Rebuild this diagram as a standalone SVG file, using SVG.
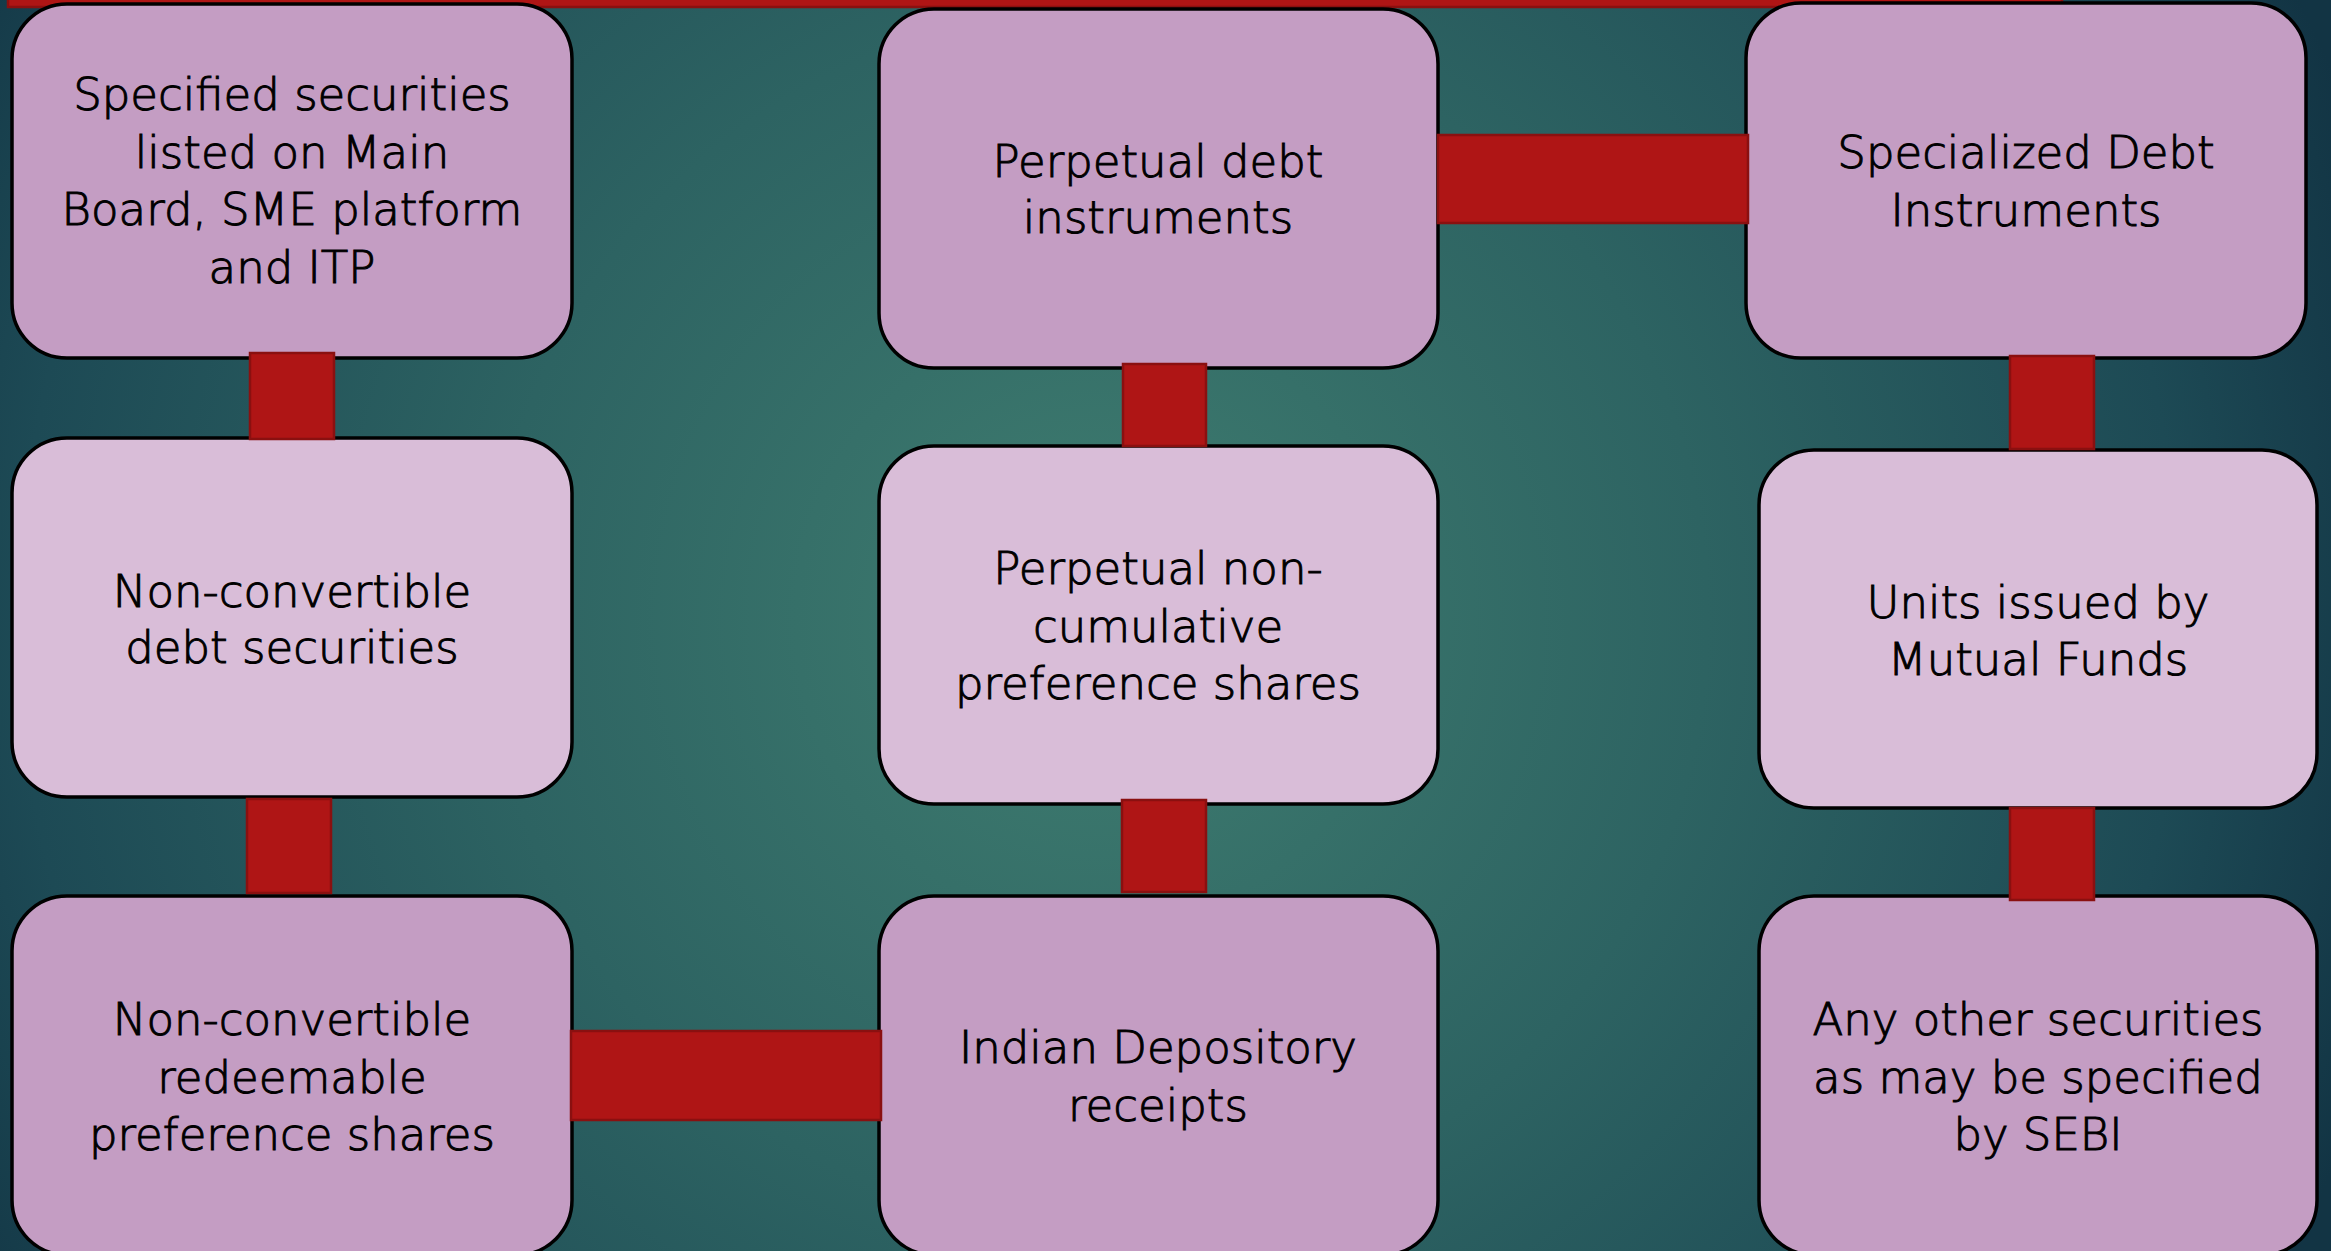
<svg xmlns="http://www.w3.org/2000/svg" width="2331" height="1251" viewBox="0 0 2331 1251">
  <defs>
    <radialGradient id="bg" cx="1100" cy="620" r="1350" gradientUnits="userSpaceOnUse">
      <stop offset="0" stop-color="#3f7d70"/>
      <stop offset="0.45" stop-color="#2d6362"/>
      <stop offset="0.8" stop-color="#1d4a55"/>
      <stop offset="1" stop-color="#123444"/>
    </radialGradient>
    <style>
      .box { stroke: #000; stroke-width: 3.5; }
      .dark { fill: #c49dc3; }
      .light { fill: #d9bdd8; }
      .conn { fill: #af1515; stroke: #8a1010; stroke-width: 2.5; }
      .lbl { font-family: "DejaVu Sans", "Liberation Sans", sans-serif; font-weight: 200; font-size: 45px; fill: #000; stroke: #000; stroke-width: 1; text-anchor: middle; }
    </style>
  </defs>
  <rect x="0" y="0" width="2331" height="1251" fill="url(#bg)"/>

  <rect id="topbar" class="conn" x="8" y="-8" width="2054" height="15"/>

  <g id="node-a1">
    <rect class="box dark" x="12" y="4" width="560" height="354" rx="55" ry="55"/>
    <text class="lbl"><tspan x="292" y="110">Specified securities</tspan><tspan x="292" y="168">listed on Main</tspan><tspan x="292" y="225">Board, SME platform</tspan><tspan x="292" y="283">and ITP</tspan></text>
  </g>
  <g id="node-a2">
    <rect class="box light" x="12" y="438" width="560" height="359" rx="55" ry="55"/>
    <text class="lbl"><tspan x="292" y="607">Non-convertible</tspan><tspan x="292" y="663">debt securities</tspan></text>
  </g>
  <g id="node-a3">
    <rect class="box dark" x="12" y="896" width="560" height="359" rx="55" ry="55"/>
    <text class="lbl"><tspan x="292" y="1035">Non-convertible</tspan><tspan x="292" y="1093">redeemable</tspan><tspan x="292" y="1150">preference shares</tspan></text>
  </g>
  <g id="node-b1">
    <rect class="box dark" x="879" y="9" width="559" height="359" rx="55" ry="55"/>
    <text class="lbl"><tspan x="1158" y="177">Perpetual debt</tspan><tspan x="1158" y="233">instruments</tspan></text>
  </g>
  <g id="node-b2">
    <rect class="box light" x="879" y="446" width="559" height="358" rx="55" ry="55"/>
    <text class="lbl"><tspan x="1158" y="584">Perpetual non-</tspan><tspan x="1158" y="642">cumulative</tspan><tspan x="1158" y="699">preference shares</tspan></text>
  </g>
  <g id="node-b3">
    <rect class="box dark" x="879" y="896" width="559" height="359" rx="55" ry="55"/>
    <text class="lbl"><tspan x="1158" y="1063">Indian Depository</tspan><tspan x="1158" y="1121">receipts</tspan></text>
  </g>
  <g id="node-c1">
    <rect class="box dark" x="1746" y="3" width="560" height="355" rx="55" ry="55"/>
    <text class="lbl"><tspan x="2026" y="168">Specialized Debt</tspan><tspan x="2026" y="226">Instruments</tspan></text>
  </g>
  <g id="node-c2">
    <rect class="box light" x="1759" y="450" width="558" height="358" rx="55" ry="55"/>
    <text class="lbl"><tspan x="2038" y="618">Units issued by</tspan><tspan x="2038" y="675">Mutual Funds</tspan></text>
  </g>
  <g id="node-c3">
    <rect class="box dark" x="1759" y="896" width="558" height="359" rx="55" ry="55"/>
    <text class="lbl"><tspan x="2038" y="1035">Any other securities</tspan><tspan x="2038" y="1093">as may be specified</tspan><tspan x="2038" y="1150">by SEBI</tspan></text>
  </g>

  <g id="connectors">
    <rect class="conn" x="250" y="353" width="84" height="86"/>
    <rect class="conn" x="247" y="799" width="84" height="94"/>
    <rect class="conn" x="571" y="1031" width="310" height="89"/>
    <rect class="conn" x="1123" y="364" width="83" height="82"/>
    <rect class="conn" x="1122" y="800" width="84" height="92"/>
    <rect class="conn" x="1438" y="135" width="310" height="88"/>
    <rect class="conn" x="2010" y="356" width="84" height="93"/>
    <rect class="conn" x="2010" y="808" width="84" height="92"/>
  </g>
</svg>
